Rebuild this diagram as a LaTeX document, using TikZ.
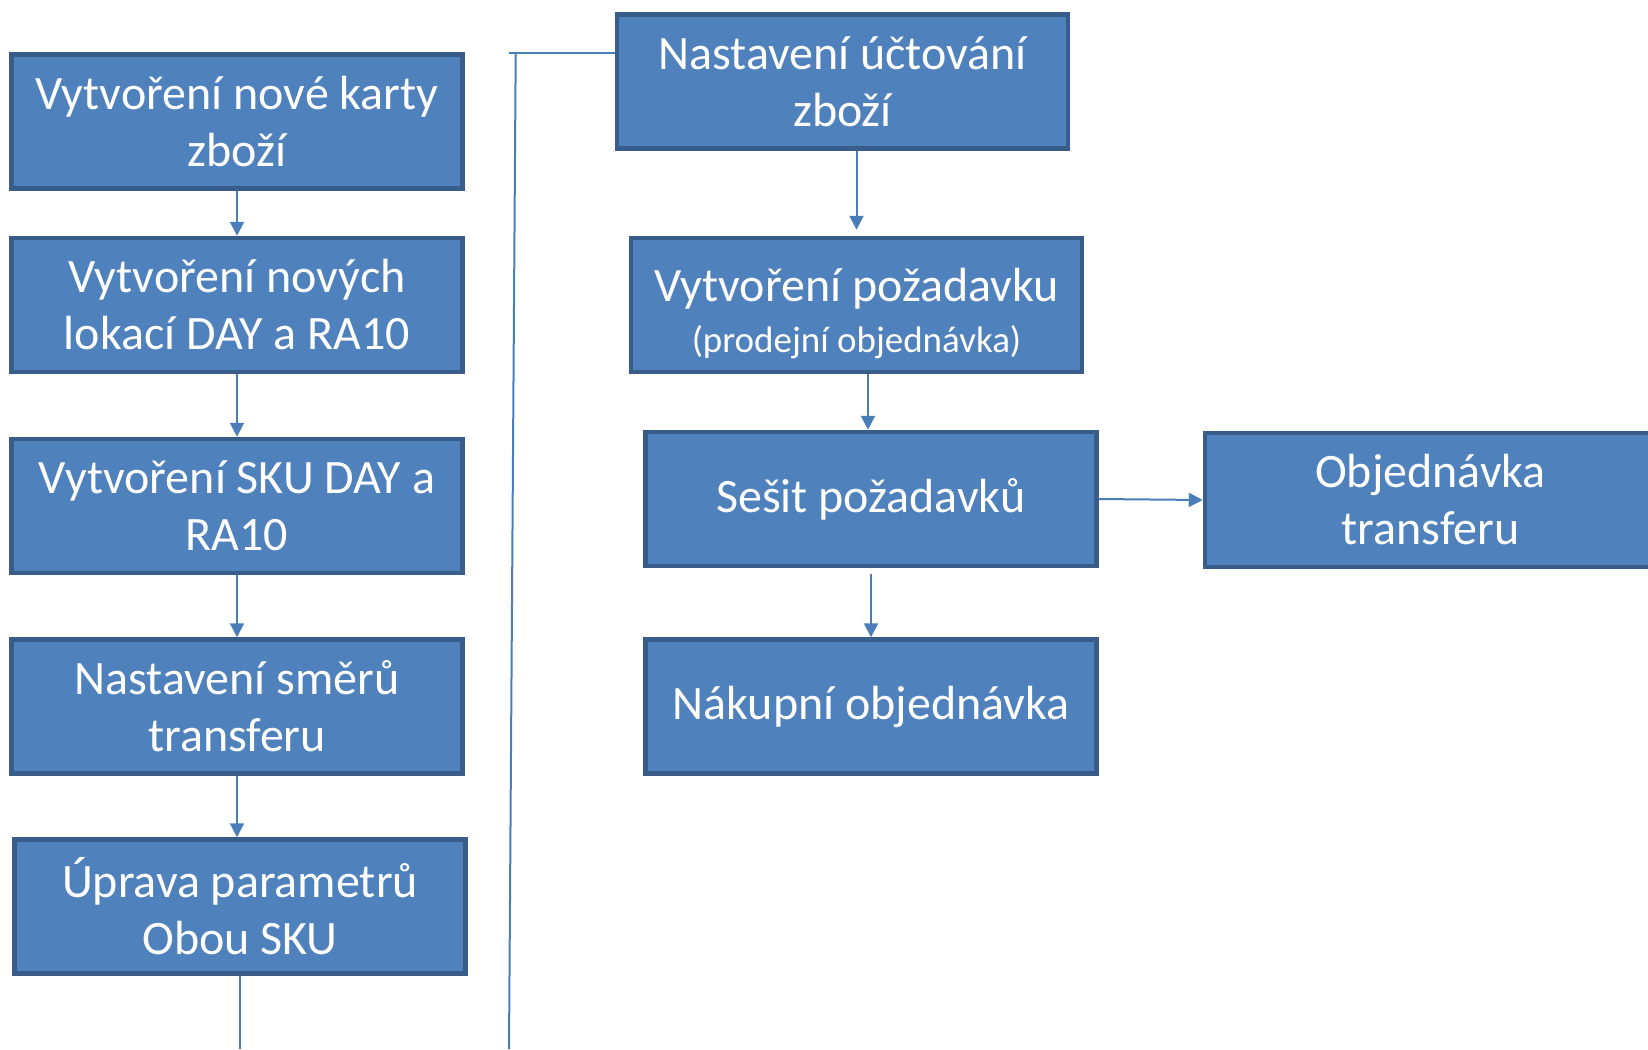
\documentclass[tikz,border=0pt]{standalone}
\usepackage{fontspec}
\setmainfont{Carlito}
\usetikzlibrary{arrows.meta}

\definecolor{boxfill}{HTML}{4F81BD}
\definecolor{boxline}{HTML}{385D8A}
\definecolor{linkblue}{HTML}{4A7EBB}

\begin{document}
\begin{tikzpicture}[
				x=0.5pt, y=-0.5pt,
				stepbox/.style={rectangle, draw=boxline, fill=boxfill, line width=2.25pt, minimum width=225.5pt, minimum height=67pt, inner sep=0pt, text=white, align=center, font=\fontsize{24}{28.5}\selectfont},
				link/.style={draw=linkblue, line width=1pt},
				arrow/.style={link, -{Triangle[width=7pt,length=7pt]}},
				]
				\useasboundingbox (0,0) rectangle (1648,1049);
				\clip (0,0) rectangle (1648,1049);
				%Nodes
				\node[stepbox](karta) at (237,121.4){Vytvoření nové karty\\zboží};
				\node[stepbox](lokace) at (237,305){Vytvoření nových\\lokací DAY a RA10};
				\node[stepbox](sku) at (237,506){Vytvoření SKU DAY a\\RA10};
				\node[stepbox](smery) at (237,706.5){Nastavení směrů\\transferu};
				\node[stepbox](parametry) at (240,906.5){Úprava parametrů\\Obou SKU};
				
				\node[stepbox](uctovani) at (842.5,81.5){Nastavení účtování\\zboží};
				\node[stepbox](pozadavek) at (856.5,305){\rule{0pt}{25pt}Vytvoření požadavku\\[-3pt]{\fontsize{18.5}{21}\selectfont(prodejní objednávka)}};
				\node[stepbox](sesit) at (871,499){Sešit požadavků};
				\node[stepbox](nakup) at (871,706.5){Nákupní objednávka};
				\node[stepbox](transfer) at (1430.5,500){Objednávka\\transferu};
				
				\coordinate (horni) at (509,52.7);
				\coordinate (roh) at (515.7,52.7);
				\coordinate (spodek) at (509,1049);
				\coordinate (dolni) at (240,1049);
				
				%Lines
				\draw[arrow] (karta.south) -- (lokace.north);
				\draw[arrow] (lokace.south) -- (sku.north);
				\draw[arrow] (sku.south) -- (smery.north);
				\draw[arrow] (smery.south) -- (smery.south |- parametry.north);
				\draw[link] (parametry.south) -- (dolni);
				
				\draw[link] (horni) -- (uctovani.west |- horni);
				\draw[link] (roh) -- (spodek);
				
				\draw[arrow, shorten >=3pt] (pozadavek.north |- uctovani.south) -- (pozadavek.north);
				\draw[arrow] ([xshift=5.75pt]pozadavek.south) -- ([xshift=5.75pt]pozadavek.south |- sesit.north);
				\draw[arrow, shorten <=3pt] (sesit.south) -- (nakup.north);
				\draw[arrow] (sesit.east) -- (transfer.west);
				
\end{tikzpicture}
\end{document}
